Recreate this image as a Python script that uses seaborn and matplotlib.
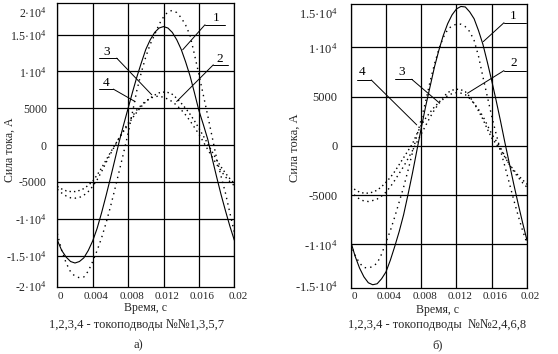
import matplotlib
matplotlib.use("Agg")
import numpy as np
import pandas as pd
import seaborn as sns
import matplotlib.pyplot as plt
from matplotlib.transforms import ScaledTranslation

sns.set_style("white")
plt.rcParams['font.family'] = ['Liberation Serif', 'DejaVu Serif']
plt.rcParams['mathtext.fontset'] = 'custom'
plt.rcParams['mathtext.rm'] = 'Liberation Serif'
plt.rcParams['mathtext.it'] = 'Liberation Serif:italic'
plt.rcParams['mathtext.default'] = 'regular'

# ---------------- data ----------------
time_s = [0.0000, 0.0005, 0.0010, 0.0015, 0.0020, 0.0025, 0.0030, 0.0035, 0.0040, 0.0045,
          0.0050, 0.0055, 0.0060, 0.0065, 0.0070, 0.0075, 0.0080, 0.0085, 0.0090, 0.0095,
          0.0100, 0.0105, 0.0110, 0.0115, 0.0120, 0.0125, 0.0130, 0.0135, 0.0140, 0.0145,
          0.0150, 0.0155, 0.0160, 0.0165, 0.0170, 0.0175, 0.0180, 0.0185, 0.0190, 0.0195,
          0.0200]

# panel a) : current leads 1,3,5,7
a_curve1 = [-12900, -14300, -15200, -15800, -16000, -15800, -15300, -14300, -13000, -11300,
            -9200, -6900, -4500, -2000, 500, 2800, 5000, 7200, 9300, 11200,
            13000, 14300, 15300, 15900, 16100, 15900, 15300, 14300, 13000, 11300,
            9400, 7100, 4700, 2800, 800, -1800, -4300, -6700, -8900, -11000,
            -12900]
a_curve2 = [-6000, -6500, -6900, -7150, -7200, -7100, -6800, -6300, -5600, -4700,
            -3600, -2400, -1200, -100, 1000, 2000, 3000, 3950, 4800, 5450,
            6000, 6350, 6600, 6650, 6500, 6250, 5900, 5400, 4800, 4100,
            3300, 2400, 1500, 450, -600, -1600, -2600, -3500, -4300, -4950,
            -5500]
a_curve3 = [-5600, -5950, -6200, -6300, -6300, -6150, -5900, -5450, -4900, -4050,
            -3100, -2050, -1000, 0, 1000, 1900, 2800, 3700, 4500, 5250,
            5900, 6400, 6800, 7100, 7200, 7150, 6900, 6350, 5700, 5000,
            4200, 3300, 2300, 1250, 200, -900, -2000, -2950, -3800, -4550,
            -5200]
a_curve4 = [-12000, -14300, -16000, -17200, -17800, -18000, -17900, -17100, -15800, -14300,
            -12600, -10600, -8400, -6000, -3500, -1000, 1600, 4500, 7500, 9900,
            12000, 13700, 15000, 16400, 17400, 18100, 18300, 18000, 17300, 16300,
            14900, 12300, 9600, 6800, 4000, 1100, -1800, -4200, -6500, -9200,
            -11800]

# panel б) : current leads 2,4,6,8
b_curve1 = [-9700, -11200, -12400, -13300, -13900, -14100, -14000, -13500, -12800, -11600,
            -10200, -8700, -7000, -4950, -2800, -500, 1800, 4000, 6000, 8000,
            9700, 11200, 12400, 13300, 13900, 14150, 14100, 13600, 12900, 11700,
            10300, 8500, 6600, 4600, 2500, 300, -1800, -3900, -5900, -7800,
            -9600]
b_curve2 = [-4600, -5050, -5400, -5600, -5650, -5550, -5400, -5100, -4700, -4150,
            -3500, -2800, -2100, -1300, -500, 350, 1200, 2050, 2900, 3650,
            4300, 4750, 5100, 5300, 5400, 5350, 5200, 4800, 4300, 3700,
            3000, 2100, 1200, 500, -200, -1050, -1900, -2600, -3200, -3750,
            -4200]
b_curve3 = [-4100, -4450, -4700, -4800, -4800, -4700, -4500, -4150, -3700, -3200,
            -2600, -1900, -1200, -500, 200, 1200, 2100, 2800, 3400, 3950,
            4400, 4950, 5400, 5650, 5750, 5700, 5500, 5000, 4300, 3550,
            2700, 1700, 800, 200, -400, -1150, -1900, -2450, -3000, -3450,
            -3900]
b_curve4 = [-10000, -11100, -11900, -12350, -12400, -12250, -11900, -11000, -9800, -8600,
            -7200, -5700, -4200, -2500, -700, 1000, 2700, 4500, 6500, 8300,
            9800, 11000, 11800, 12200, 12350, 12350, 12100, 11600, 10700, 9100,
            7000, 5000, 3000, 1200, -500, -2100, -3800, -5500, -7100, -8600,
            -9900]

x_ticks = [0, 0.004, 0.008, 0.012, 0.016, 0.02]
x_ticklabels = ["0", "0.004", "0.008", "0.012", "0.016", "0.02"]

a_ylim = (-19300, 19300)
a_yticks = [-15000, -10000, -5000, 0, 5000, 10000, 15000]
a_yticklabels = ["-1.5·10$^{4}$", "-1·10$^{4}$", "-5000", "0", "5000", "1·10$^{4}$", "1.5·10$^{4}$"]
a_edge_labels = ("-2·10$^{4}$", "2·10$^{4}$")

b_ylim = (-14400, 14400)
b_yticks = [-10000, -5000, 0, 5000, 10000]
b_yticklabels = ["-1·10$^{4}$", "-5000", "0", "5000", "1·10$^{4}$"]
b_edge_labels = ("-1.5·10$^{4}$", "1.5·10$^{4}$")

# label callouts: (text, text centre, horizontal shelf (x0, x1, y), tip of leader, leader side)
a_callouts = [("1", (0.01793, 17300), (0.01669, 0.01895, 16350), (0.01417, 12950), "l"),
              ("2", (0.01832, 11750), (0.01763, 0.01932, 10910), (0.01349, 5925), "l"),
              ("3", (0.00558, 12650), (0.00475, 0.00671, 11820), (0.01067, 6840), "r"),
              ("4", (0.00550, 8450), (0.00475, 0.00633, 7610), (0.00878, 5925), "r")]
b_callouts = [("1", (0.01845, 13200), (0.01739, 0.01989, 12500), (0.01504, 10580), "l"),
              ("2", (0.01845, 8400), (0.01739, 0.01989, 7640), (0.01325, 5340), "l"),
              ("3", (0.00579, 7500), (0.00503, 0.00692, 6760), (0.00999, 4410), "r"),
              ("4", (0.00125, 7500), (0.00068, 0.00233, 6690), (0.00749, 2130), "r")]

# ---------------- figure ----------------
W, H = 558, 354
fig = plt.figure(figsize=(W / 100, H / 100), dpi=100)
fig.patch.set_facecolor("white")


def px_axes(x0, y0, x1, y1):
    return fig.add_axes([x0 / W, 1 - y1 / H, (x1 - x0) / W, (y1 - y0) / H])


ax_a = px_axes(57.3, 3, 234.3, 287.3)
ax_b = px_axes(350.7, 4, 527.0, 287.7)

dash_map = {"1": "", "2": (1, 2.6), "3": (1, 2.2), "4": (1, 3.0)}
size_map = {"1": 0.8, "2": 1.0, "3": 1.0, "4": 1.0}


def draw_panel(ax, curves, ylim, yticks, yticklabels, edge_labels, callouts, fs_y, fs_x, ypad):
    frames = []
    for name, vals in curves.items():
        frames.append(pd.DataFrame({"t": time_s, "I": vals, "curve": name}))
    df = pd.concat(frames, ignore_index=True)
    sns.lineplot(data=df, x="t", y="I", style="curve", dashes=dash_map,
                 size="curve", sizes=size_map,
                 color="black", legend=False, ax=ax, sort=False)
    ax.set_xlim(0, 0.02)
    ax.set_ylim(*ylim)
    ax.set_xticks(x_ticks)
    ax.set_xticklabels(x_ticklabels, fontsize=fs_x)
    ax.set_yticks(yticks)
    ax.set_yticklabels(yticklabels, fontsize=fs_y)
    ax.tick_params(axis="both", length=0)
    ax.tick_params(axis="x", pad=3.4)
    ax.tick_params(axis="y", pad=ypad)
    ax.grid(True, color="black", linewidth=0.9)
    ax.set_axisbelow(True)
    for s in ax.spines.values():
        s.set_color("black")
        s.set_linewidth(0.9)
    ax.set_xlabel("")
    ax.set_ylabel("")
    for lab in ax.get_xticklabels():
        lab.set_transform(lab.get_transform() + ScaledTranslation(0.035, 0, fig.dpi_scale_trans))
    ax.annotate(edge_labels[0], xy=(0, ylim[0]), xycoords=("axes fraction", "data"),
                xytext=(-ypad, 0), textcoords="offset points", ha="right", va="center",
                fontsize=fs_y)
    ax.annotate(edge_labels[1], xy=(0, ylim[1]), xycoords=("axes fraction", "data"),
                xytext=(-ypad, -7.5), textcoords="offset points", ha="right", va="center",
                fontsize=fs_y)
    for txt, tpos, shelf, tip, side in callouts:
        x0, x1, yy = shelf
        ax.plot([x0, x1], [yy, yy], color="black", lw=0.7)
        start = (x0, yy) if side == "l" else (x1, yy)
        ax.plot([start[0], tip[0]], [start[1], tip[1]], color="black", lw=0.7)
        ax.text(tpos[0], tpos[1], txt, ha="center", va="center", fontsize=9.5,
                color="black")


draw_panel(ax_a, {"1": a_curve1, "2": a_curve2, "3": a_curve3, "4": a_curve4},
           a_ylim, a_yticks, a_yticklabels, a_edge_labels, a_callouts, 8.5, 8.0, 7.5)
draw_panel(ax_b, {"1": b_curve1, "2": b_curve2, "3": b_curve3, "4": b_curve4},
           b_ylim, b_yticks, b_yticklabels, b_edge_labels, b_callouts, 9.0, 8.0, 9.5)


def ftext(x, y, s, **kw):
    fig.text(x / W, 1 - y / H, s, ha="center", va="center", **kw)


ftext(10, 150, "Сила тока, А", rotation=90, fontsize=8.5)
ftext(295, 148, "Сила тока, А", rotation=90, fontsize=9)
ftext(145, 308.5, "Время, с", fontsize=8.5)
ftext(437, 309.5, "Время, с", fontsize=8.5)
ftext(137, 325, "1,2,3,4 - токоподводы №№1,3,5,7", fontsize=9)
ftext(437.5, 325, "1,2,3,4 - токоподводы  №№2,4,6,8", fontsize=9)
ftext(138, 345, "а)", fontsize=9)
ftext(438, 345, "б)", fontsize=9)

fig.savefig("out.png", dpi=100, facecolor="white")
